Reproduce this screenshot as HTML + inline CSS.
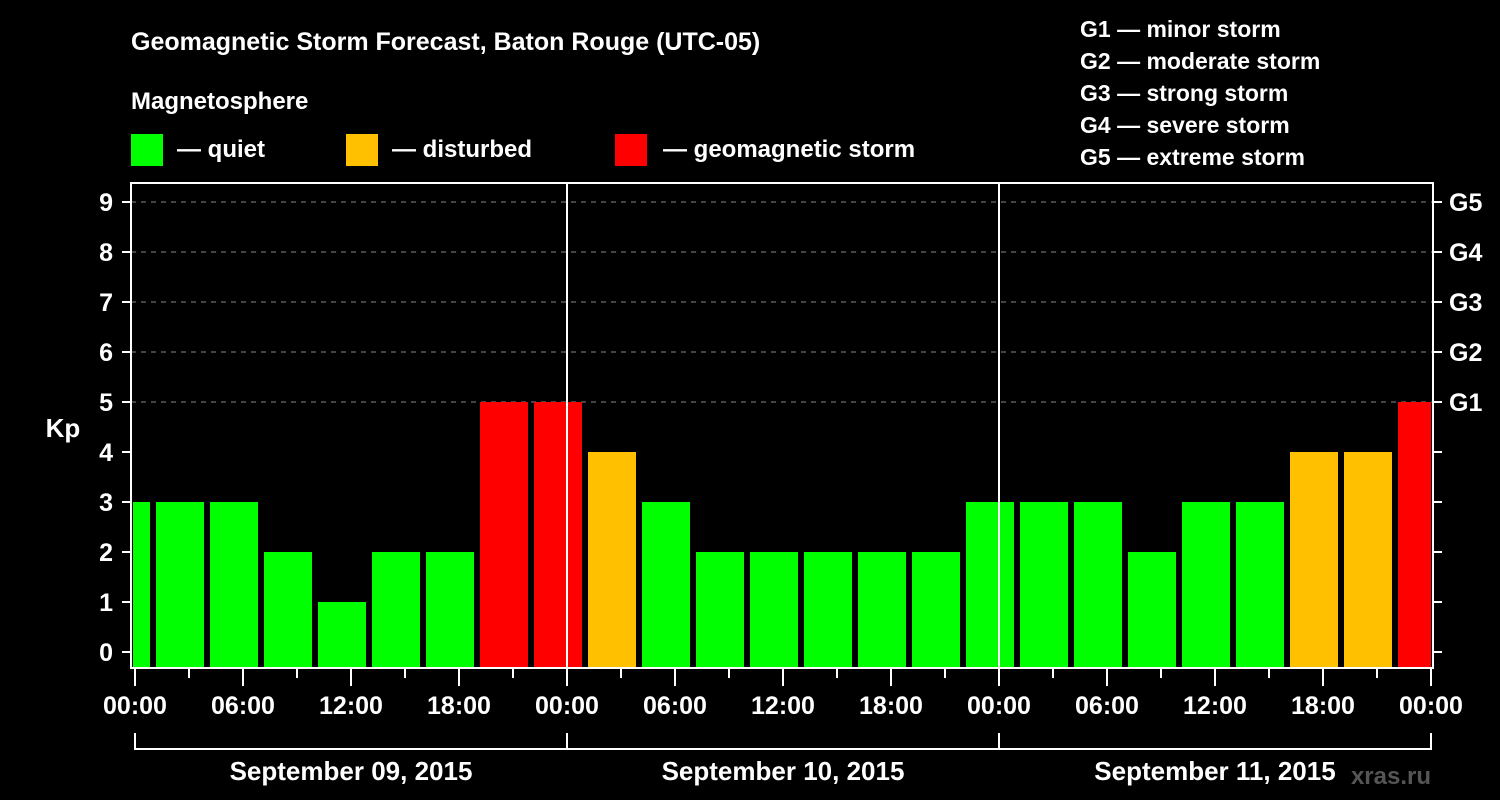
<!DOCTYPE html>
<html><head><meta charset="utf-8"><style>
body{margin:0;background:#000;width:1500px;height:800px;overflow:hidden}
svg{display:block;font-family:"Liberation Sans",Arial,sans-serif;font-weight:bold;fill:#fff}
</style></head><body>
<svg id="c" width="1500" height="800" viewBox="0 0 1500 800">
<rect width="1500" height="800" fill="#000"/>
<text x="131" y="50" font-size="25">Geomagnetic Storm Forecast, Baton Rouge (UTC-05)</text>
<text x="131" y="109" font-size="24">Magnetosphere</text>
<g><rect x="131" y="134" width="32" height="32" fill="#00ff00"/><text x="177" y="157" font-size="24">— quiet</text></g>
<g><rect x="346" y="134" width="32" height="32" fill="#ffc000"/><text x="392" y="157" font-size="24">— disturbed</text></g>
<g><rect x="615" y="134" width="32" height="32" fill="#ff0000"/><text x="663" y="157" font-size="24">— geomagnetic storm</text></g>
<g font-size="23">
<text x="1080" y="37">G1 — minor storm</text>
<text x="1080" y="69">G2 — moderate storm</text>
<text x="1080" y="101">G3 — strong storm</text>
<text x="1080" y="133">G4 — severe storm</text>
<text x="1080" y="165">G5 — extreme storm</text>
</g>
<text x="63" y="437" font-size="26" text-anchor="middle">Kp</text>
<text x="1431" y="784" font-size="24" fill="#555" style="fill:#555" text-anchor="end">xras.ru</text>
<g id="grid"></g><g id="bars"></g><g id="axes"></g>
</svg>
<script>
const kpValues=[3,3,3,2,1,2,2,5,5,4,3,2,2,2,2,2,3,3,3,2,3,3,4,4,5];
const firstBarStartHour=-2; // local hours relative to first midnight
const dayLabels=["September 09, 2015","September 10, 2015","September 11, 2015"];
const timeLabels=["00:00","06:00","12:00","18:00"];
const gLabels=["G1","G2","G3","G4","G5"];
const NS="http://www.w3.org/2000/svg";
const X0=135,PXH=18,L=131,R=1433,T=183,B=668;
const xs=h=>X0+h*PXH, ys=v=>652-v*50;
function mk(tag,a,parent){const e=document.createElementNS(NS,tag);for(const k in a)e.setAttribute(k,a[k]);parent.appendChild(e);return e;}
const grid=document.getElementById('grid'),bars=document.getElementById('bars'),axes=document.getElementById('axes');
for(let v=5;v<=9;v++){const l=mk('line',{x1:L,x2:R,y1:ys(v),y2:ys(v),stroke:'#888','stroke-width':1,'stroke-dasharray':'5,5'},grid);

}
kpValues.forEach((v,i)=>{const h0=firstBarStartHour+i*3;let x1=xs(h0)+3,x2=xs(h0+3)-3;x1=Math.max(x1,L+2);x2=Math.min(x2,R-2);
const c=v>=5?'#ff0000':v>=4?'#ffc000':'#00ff00';
const r=mk('rect',{x:x1,y:ys(v),width:x2-x1,height:B-1-ys(v),fill:c},bars);

});
const days=dayLabels.length;
for(let d=1;d<days;d++){const l=mk('line',{x1:xs(d*24),x2:xs(d*24),y1:T,y2:B,stroke:'#fff','stroke-width':2},axes);

}
const fr=mk('rect',{x:L,y:T,width:R-L,height:B-T,fill:'none',stroke:'#fff','stroke-width':2},axes);


for(let v=0;v<=9;v++){mk('line',{x1:L-9,x2:L,y1:ys(v),y2:ys(v),stroke:'#fff','stroke-width':2},axes);
mk('line',{x1:R,x2:R+9,y1:ys(v),y2:ys(v),stroke:'#fff','stroke-width':2},axes);
const t=mk('text',{x:113,y:ys(v)+9,'font-size':25,'text-anchor':'end'},axes);t.textContent=v;

}
gLabels.forEach((g,i)=>{const t=mk('text',{x:1449,y:ys(5+i)+9,'font-size':25},axes);t.textContent=g;

});
for(let h=0;h<=days*24;h+=3){const long=h%6===0;mk('line',{x1:xs(h),x2:xs(h),y1:B,y2:long?686:678,stroke:'#fff','stroke-width':2},axes);
if(long&&(h%6===0)){const t=mk('text',{x:xs(h),y:714,'font-size':25,'text-anchor':'middle'},axes);t.textContent=timeLabels[(h%24)/6];

}}
mk('line',{x1:xs(0),x2:xs(days*24),y1:749,y2:749,stroke:'#fff','stroke-width':2},axes);
for(let d=0;d<=days;d++)mk('line',{x1:xs(d*24),x2:xs(d*24),y1:733,y2:750,stroke:'#fff','stroke-width':2},axes);
dayLabels.forEach((s,d)=>{const t=mk('text',{x:xs(d*24+12),y:780,'font-size':26,'text-anchor':'middle'},axes);t.textContent=s;

});
</script>
</body></html>
